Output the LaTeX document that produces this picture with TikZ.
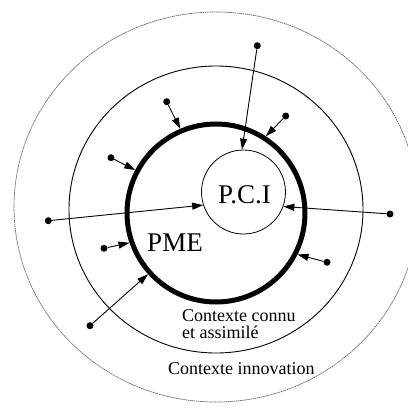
\documentclass[tikz,border=0pt]{standalone}
\usepackage{fontspec}
\setmainfont{Liberation Serif}
\usetikzlibrary{shapes.geometric,arrows.meta}
\tikzset{
  dot/.style={circle,fill=black,inner sep=0pt,minimum size=7pt},
  link/.style={line width=0.9pt,-{Triangle[length=11pt,width=7pt]}},
  bigtext/.style={font=\fontsize{27}{30}\selectfont,inner sep=0pt},
  smalltext/.style={font=\fontsize{18}{17}\selectfont,inner sep=0pt}
}
\begin{document}
\begin{tikzpicture}[x=1pt,y=-1pt]
\useasboundingbox (0,0) rectangle (408,408);
\clip (0,0) rectangle (408,408);
% outer context
\node[ellipse,draw=black!60,line width=0.7pt,dash pattern=on 1.5pt off 0.6pt,
      minimum width=404pt,minimum height=390pt,inner sep=0pt] (innov) at (216,207) {};
% known context
\node[ellipse,draw,line width=0.9pt,minimum width=294pt,minimum height=287pt,inner sep=0pt] (connu) at (216,209.5) {};
% PME
\node[circle,draw,line width=5pt,minimum size=178pt,inner sep=0pt] (pme) at (216,213) {};
% PCI
\node[circle,draw,line width=0.8pt,minimum size=84pt,inner sep=0pt] (pci) at (243.5,192) {};
\node[bigtext,anchor=base] (pcitext) at (244.5,203) {P.C.I};
\node[bigtext,anchor=base] (pmetext) at (175,251) {PME};
\node[smalltext,anchor=base west,align=left] (connutext) at (182,338) {Contexte connu\\et assimilé};
\node[smalltext,anchor=base west] (innovtext) at (168,374) {Contexte innovation};
% dots
\node[dot] (d1) at (257.3,45.7) {};
\node[dot] (d2) at (285.7,116) {};
\node[dot] (d3) at (166.7,101.7) {};
\node[dot] (d4) at (111,157.7) {};
\node[dot] (d5) at (48.3,220.7) {};
\node[dot] (d6) at (104,248.3) {};
\node[dot] (d7) at (90,325.7) {};
\node[dot] (d8) at (390,214) {};
\node[dot] (d9) at (327,262.3) {};
% arrows
\draw[link] (d1) -- (pci.92);
\draw[link] (d2) -- (pme.57.3);
\draw[link] (d3) -- (pme.113.6);
\draw[link] (d4) -- (pme.152.3);
\draw[link] (d5) -- (pci.198.7);
\draw[link] (d6) -- (pme.199);
\draw[link] (d7) -- (pme.222.2);
\draw[link] (d8) -- (pci.-20.2);
\draw[link] (d9) -- (pme.-27.1);
\end{tikzpicture}
\end{document}
